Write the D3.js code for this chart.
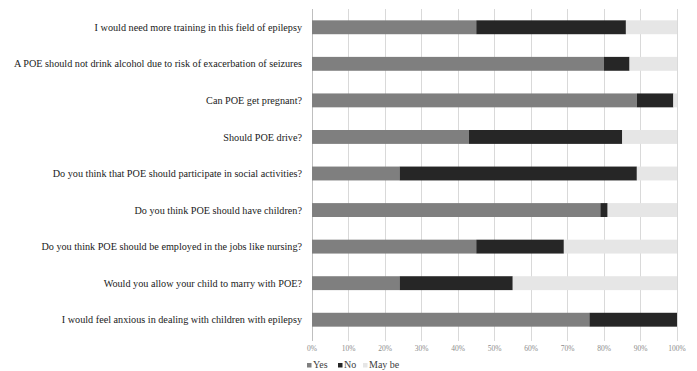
<!DOCTYPE html>
<html>
<head>
<meta charset="utf-8">
<script src="https://cdn.jsdelivr.net/npm/d3@7.9.0/dist/d3.min.js"></script>
<style>
  body { margin: 0; background: #fff; }
  text { font-family: "Liberation Serif", "Times New Roman", serif; }
</style>
</head>
<body>
<svg width="697" height="371"></svg>
<script>
const questions = [
  'I would need more training in this field of epilepsy',
  'A POE should not drink alcohol due to risk of exacerbation of seizures',
  'Can POE get pregnant?',
  'Should POE drive?',
  'Do you think that POE should participate in social activities?',
  'Do you think POE should have children?',
  'Do you think POE should be employed in the jobs like nursing?',
  'Would you allow your child to marry with POE?',
  'I would feel anxious in dealing with children with epilepsy'
];
const yes   = [45, 80, 89, 43, 24, 79, 45, 24, 76];
const no    = [41,  7, 10, 42, 65,  2, 24, 31, 24];
const maybe = [14, 13,  1, 15, 11, 19, 31, 45,  0];
const seriesNames = ['Yes', 'No', 'May be'];
const seriesColors = ['#7f7f7f', '#262626', '#e6e6e6'];
const xTicks = [0, 10, 20, 30, 40, 50, 60, 70, 80, 90, 100];

const svg = d3.select('svg');
const margin = { left: 312, right: 20, top: 9, bottom: 33 };
const width = 697, height = 371;

let rows = questions.map((q, i) => ({ q, Yes: yes[i], No: no[i], 'May be': maybe[i] }));
let stack = d3.stack().keys(seriesNames)(rows);

let x = d3.scaleLinear().domain([0, 100]).range([margin.left, width - margin.right]);
let y = d3.scaleBand().domain(questions).range([margin.top, height - margin.bottom]).paddingInner(0.62).paddingOuter(0.31);
let color = d3.scaleOrdinal().domain(seriesNames).range(seriesColors);

// gridlines (run a little below the plot as tick marks)
svg.append('g')
  .selectAll('line')
  .data(xTicks)
  .join('line')
  .attr('x1', d => x(d)).attr('x2', d => x(d))
  .attr('y1', margin.top).attr('y2', height - margin.bottom + 3)
  .attr('stroke', d => d === 0 ? '#bfbfbf' : '#d9d9d9')
  .attr('stroke-width', 1)
  .attr('shape-rendering', 'crispEdges');

// bars
svg.append('g')
  .selectAll('g')
  .data(stack)
  .join('g')
  .attr('fill', d => color(d.key))
  .selectAll('rect')
  .data(d => d)
  .join('rect')
  .attr('x', d => x(d[0]))
  .attr('width', d => x(d[1]) - x(d[0]))
  .attr('y', d => y(d.data.q))
  .attr('height', y.bandwidth());

// category labels
svg.append('g')
  .selectAll('text')
  .data(questions)
  .join('text')
  .attr('x', margin.left - 10)
  .attr('y', d => y(d) + y.bandwidth() / 2)
  .attr('dy', '0.35em')
  .attr('text-anchor', 'end')
  .attr('font-size', 10.2)
  .attr('fill', '#1a1a1a')
  .text(d => d);

// x tick labels
svg.append('g')
  .selectAll('text')
  .data(xTicks)
  .join('text')
  .attr('x', d => x(d))
  .attr('y', height - margin.bottom + 13)
  .attr('text-anchor', 'middle')
  .attr('font-size', 7.5)
  .attr('fill', '#8c8c8c')
  .text(d => d + '%');

// legend
let lg = svg.append('g').attr('transform', 'translate(307,368)');
let lx = 0;
const legendGaps = [31, 25, 0];
seriesNames.forEach((s, i) => {
  lg.append('rect').attr('x', lx).attr('y', -5).attr('width', 4.5).attr('height', 4.5).attr('fill', seriesColors[i]);
  lg.append('text').attr('x', lx + 6).attr('y', 0).attr('font-size', 10).attr('fill', '#404040').text(s);
  lx += legendGaps[i];
});
</script>
</body>
</html>
